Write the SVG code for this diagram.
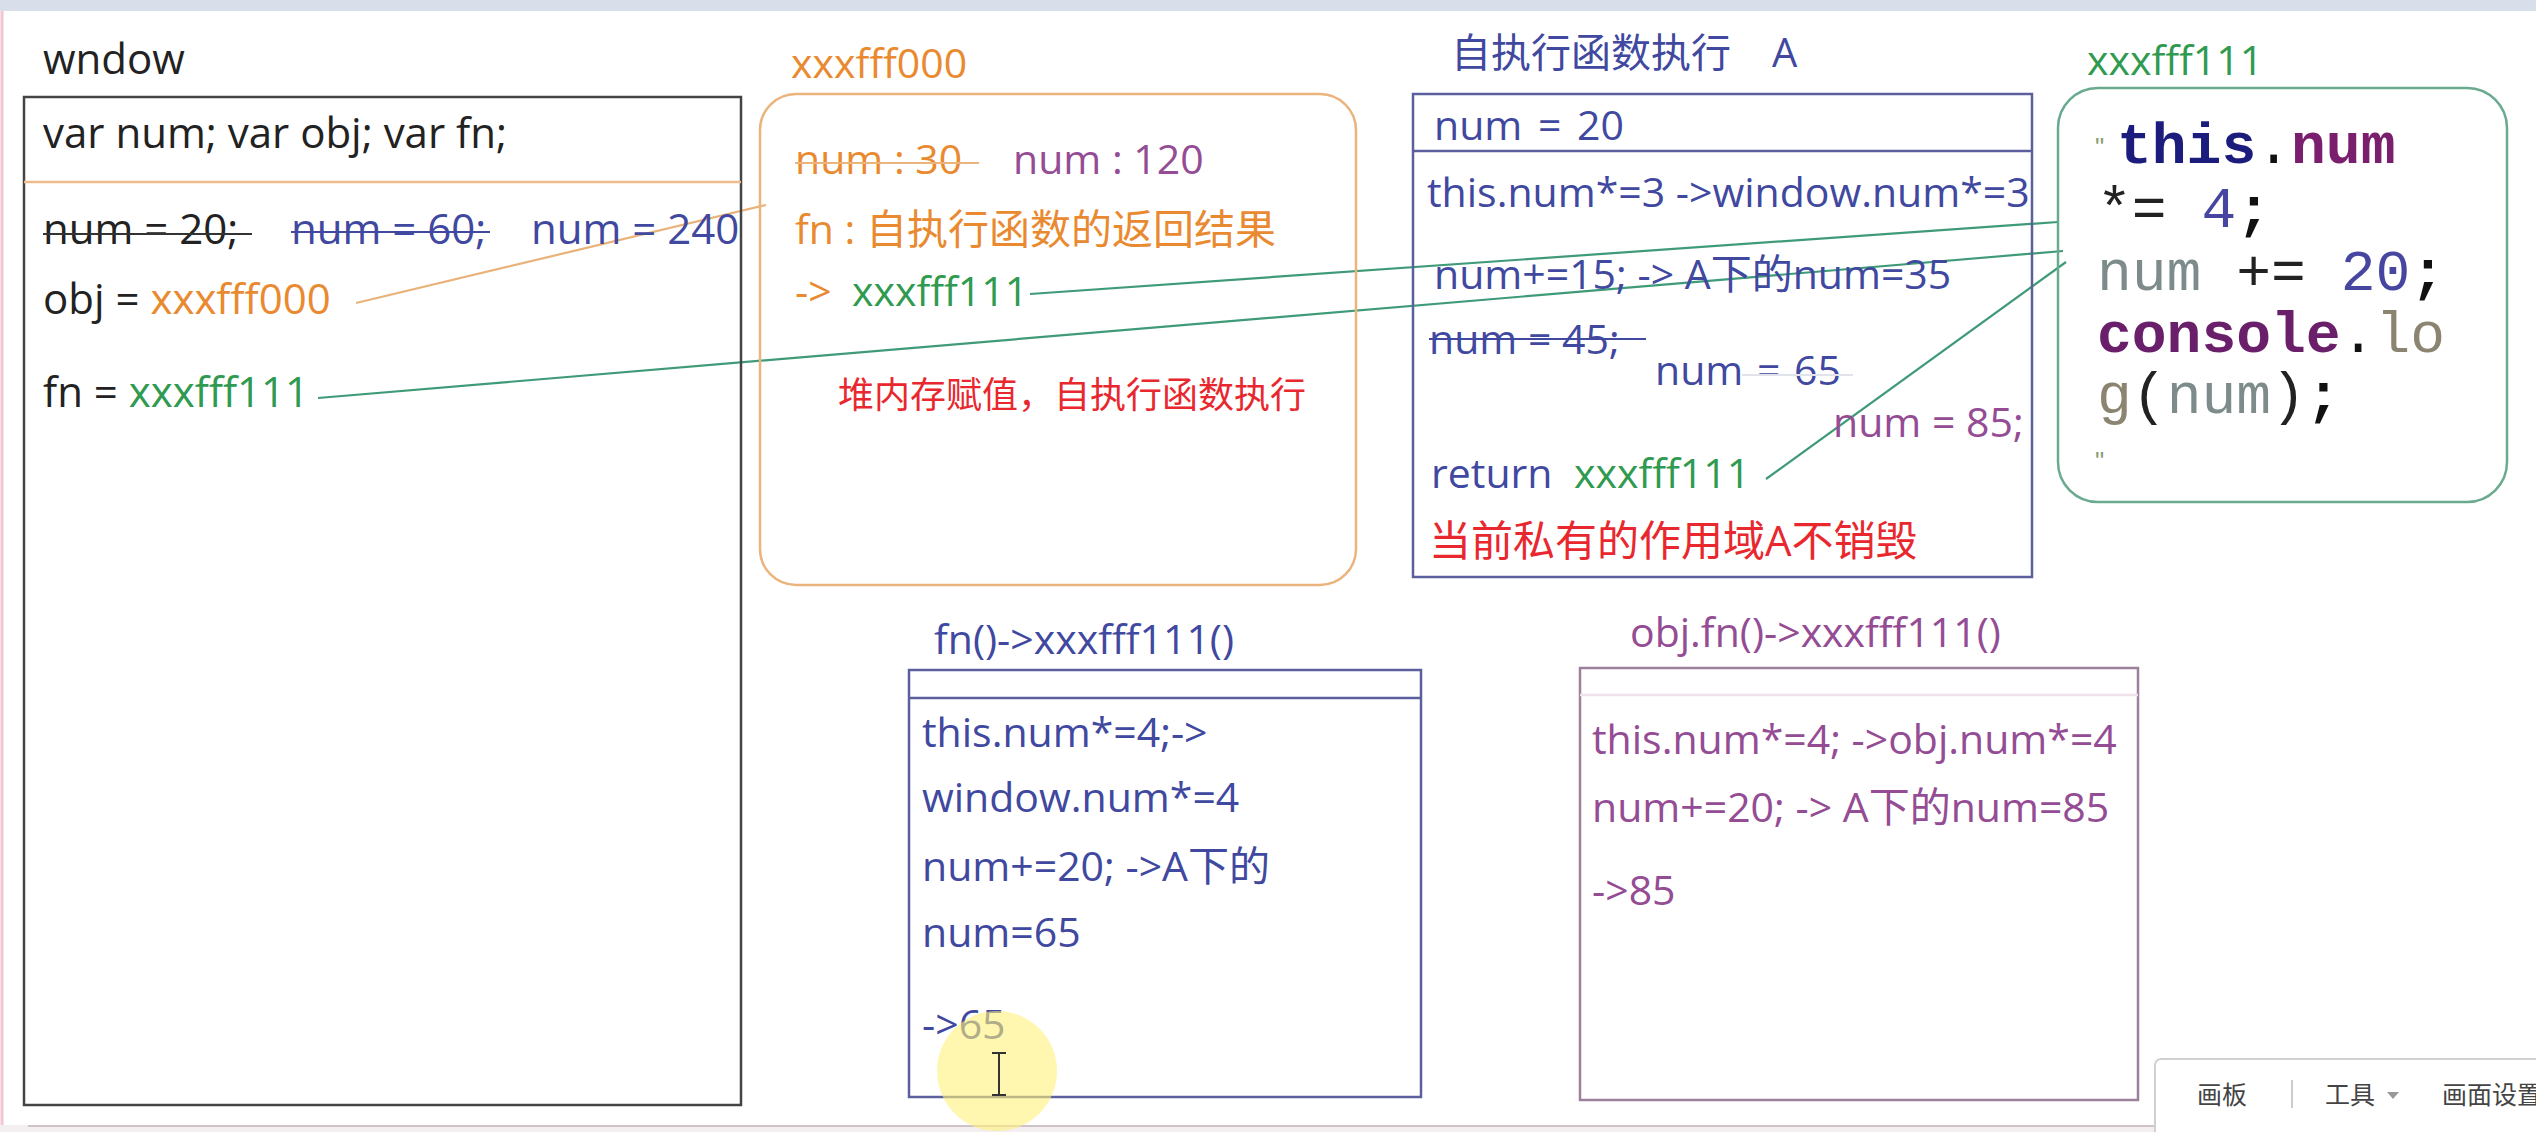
<svg xmlns="http://www.w3.org/2000/svg" width="2536" height="1132" viewBox="0 0 2536 1132">
<style>
.t{font-family:"Open Sans","Noto Sans CJK SC",sans-serif;font-size:41px;white-space:pre}
.w{font-size:42px}
.code{font-family:"Liberation Mono","Courier New",monospace;font-size:58px;white-space:pre}
.b{font-weight:bold}
.frame{fill:none;stroke-width:2.5}
.conn{fill:none;stroke-width:2.2}
.strike{stroke-width:2.2}
.blk{fill:#222}
.org{fill:#e98a30}
.grn{fill:#2f9a50}
.blu{fill:#4048a0}
.pur{fill:#944c94}
.red{fill:#e8282e}
</style>
<rect width="2536" height="1132" fill="#fff"/>
<g id="screen">
<rect x="0" y="0" width="2536" height="11" fill="#d8dfea"/>
<line x1="2" y1="11" x2="2" y2="1132" stroke="#f0c6d0" stroke-width="3"/>
<rect x="0" y="1125" width="2536" height="7" fill="#f3eef0"/>
<line x1="28" y1="1126" x2="2536" y2="1126" stroke="#cfc3c7" stroke-width="2"/>
</g>

<g id="connectors">
<line class="conn" x1="356" y1="303" x2="766" y2="205" stroke="#e9b27a"/>
<line class="conn" x1="318" y1="398" x2="2063" y2="251" stroke="#3f9a78"/>
<line class="conn" x1="1030" y1="294" x2="2058" y2="222" stroke="#3f9a78"/>
<line class="conn" x1="1766" y1="479" x2="2066" y2="262" stroke="#3f9a78"/>
</g>

<g id="node-window">
<text class="t w blk" x="43" y="74">wndow</text>
<rect class="frame" x="24" y="97" width="717" height="1008" stroke="#444" stroke-width="3"/>
<line x1="24" y1="182" x2="741" y2="182" stroke="#efbb8c" stroke-width="2.5"/>
<text class="t w blk" x="43" y="148">var num; var obj; var fn;</text>
<text class="t w blk" x="43" y="244">num = 20;</text>
<line class="strike" x1="43" y1="234" x2="252" y2="234" stroke="#333"/>
<text class="t w blu" x="291" y="244">num = 60;</text>
<line class="strike" x1="291" y1="232" x2="490" y2="232" stroke="#4048a0"/>
<text class="t w blu" x="531" y="244">num = 240</text>
<text class="t w blk" x="43" y="314">obj = <tspan class="org">xxxfff000</tspan></text>
<text class="t w blk" x="43" y="407">fn = <tspan class="grn">xxxfff111</tspan></text>
</g>

<g id="node-heap000">
<text class="t org" x="791" y="78">xxxfff000</text>
<rect class="frame" x="760" y="94" width="596" height="491" rx="36" stroke="#eab47c"/>
<text class="t org" x="795" y="174">num : 30</text>
<line class="strike" x1="795" y1="163" x2="979" y2="163" stroke="#eab47c"/>
<text class="t pur" x="1013" y="174">num : 120</text>
<text class="t org" x="795" y="244">fn : 自执行函数的返回结果</text>
<text class="t org" x="795" y="306">-&gt; <tspan x="852" class="grn">xxxfff111</tspan></text>
<text class="t red" x="838" y="408" style="font-size:36px">堆内存赋值，自执行函数执行</text>
</g>

<g id="node-scopeA">
<text class="t blu" x="1451" y="67" style="font-size:40px">自执行函数执行<tspan x="1772">A</tspan></text>
<rect class="frame" x="1413" y="94" width="619" height="483" stroke="#5b5f9e"/>
<line x1="1413" y1="151" x2="2032" y2="151" stroke="#5b5f9e" stroke-width="2.5"/>
<text class="t blu" x="1434" y="140" style="word-spacing:5px">num = 20</text>
<text class="t blu" x="1427" y="207">this.num*=3 -&gt;window.num*=3</text>
<text class="t blu" x="1434" y="289">num+=15; -&gt; A下的num=35</text>
<text class="t blu" x="1429" y="354">num = 45;</text>
<line class="strike" x1="1429" y1="339" x2="1646" y2="339" stroke="#4048a0"/>
<text class="t blu" x="1655" y="385" style="word-spacing:3px">num = 65</text>
<line x1="1742" y1="375" x2="1853" y2="375" stroke="#e2e2ea" stroke-width="2"/>
<text class="t pur" x="1833" y="437">num = 85;</text>
<text class="t blu" x="1431" y="488">return<tspan x="1574" class="grn">xxxfff111</tspan></text>
<text class="t red" x="1429" y="556" style="font-size:42px">当前私有的作用域A不销毁</text>
</g>

<g id="node-heap111">
<text class="t grn" x="2087" y="75">xxxfff111</text>
<rect class="frame" x="2058" y="88" width="449" height="414" rx="40" stroke="#6aaa8e"/>
<text x="2095" y="156" style="font-family:'Liberation Sans',sans-serif;font-size:26px" fill="#8aa070">"</text>
<text class="code" x="2117" y="163"><tspan class="b" fill="#1c1c7c">this</tspan><tspan fill="#111">.</tspan><tspan class="b" fill="#7a1e6e">num</tspan></text>
<text class="code" x="2097" y="227"><tspan fill="#222">*=</tspan> <tspan fill="#4646a0">4</tspan><tspan class="b" fill="#111">;</tspan></text>
<text class="code" x="2097" y="290"><tspan fill="#7d8b8b">num</tspan> <tspan fill="#222">+=</tspan> <tspan fill="#4646a0">20</tspan><tspan class="b" fill="#111">;</tspan></text>
<text class="code" x="2097" y="352"><tspan class="b" fill="#6a1f6a">console</tspan><tspan fill="#111">.</tspan><tspan fill="#8a8470">lo</tspan></text>
<text class="code" x="2097" y="413"><tspan fill="#8a8470">g</tspan><tspan fill="#222">(</tspan><tspan fill="#7d8b8b">num</tspan><tspan fill="#222">)</tspan><tspan class="b" fill="#111">;</tspan></text>
<text x="2095" y="470" style="font-family:'Liberation Sans',sans-serif;font-size:26px" fill="#8aa070">"</text>
</g>

<g id="node-call-fn">
<text class="t blu" x="934" y="654">fn()-&gt;xxxfff111()</text>
<rect class="frame" x="909" y="670" width="512" height="427" stroke="#5b5f9e"/>
<line x1="909" y1="698" x2="1421" y2="698" stroke="#5b5f9e" stroke-width="2.5"/>
<text class="t blu" x="922" y="747">this.num*=4;-&gt;</text>
<text class="t blu" x="922" y="812">window.num*=4</text>
<text class="t blu" x="922" y="881">num+=20; -&gt;A下的</text>
<text class="t blu" x="922" y="947">num=65</text>
<text class="t blu" x="922" y="1039">-&gt;65</text>
</g>

<g id="node-call-objfn">
<text class="t pur" x="1630" y="647">obj.fn()-&gt;xxxfff111()</text>
<rect class="frame" x="1580" y="668" width="558" height="432" stroke="#9c809c"/>
<line x1="1580" y1="695" x2="2138" y2="695" stroke="#f0e2ea" stroke-width="2.5"/>
<text class="t pur" x="1592" y="754">this.num*=4; -&gt;obj.num*=4</text>
<text class="t pur" x="1592" y="822">num+=20; -&gt; A下的num=85</text>
<text class="t pur" x="1592" y="905">-&gt;85</text>
</g>

<g id="cursor">
<circle cx="997" cy="1071" r="60" fill="#fff27a" fill-opacity="0.6"/>
<path d="M992 1053 H1006 M999 1053 V1095 M992 1095 H1006" stroke="#333" stroke-width="2" fill="none"/>
</g>

<g id="toolbar">
<rect x="2155" y="1059" width="400" height="90" rx="6" fill="#fff" stroke="#d0d0d0" stroke-width="2"/>
<text x="2197" y="1104" style="font-family:'Noto Sans CJK SC',sans-serif;font-size:25px" fill="#444">画板</text>
<line x1="2292" y1="1080" x2="2292" y2="1108" stroke="#ccc" stroke-width="2"/>
<text x="2325" y="1104" style="font-family:'Noto Sans CJK SC',sans-serif;font-size:25px" fill="#444">工具</text>
<path d="M2387 1092 L2399 1092 L2393 1099 Z" fill="#999"/>
<text x="2442" y="1104" style="font-family:'Noto Sans CJK SC',sans-serif;font-size:25px" fill="#444">画面设置</text>
</g>
</svg>
